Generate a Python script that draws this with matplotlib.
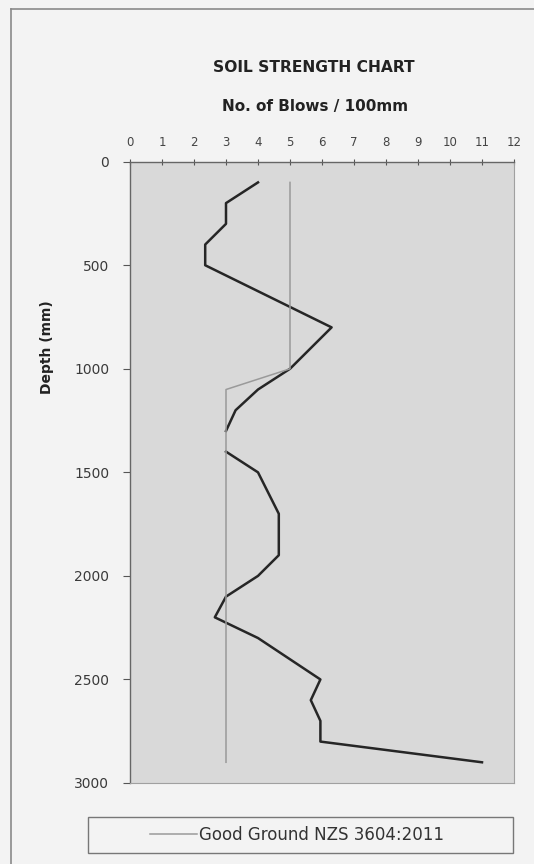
import matplotlib
matplotlib.use("Agg")
import matplotlib.pyplot as plt
import numpy as np
from matplotlib.patches import Rectangle
from matplotlib.lines import Line2D

# Data (NaN marks the break in the measured record between 1300 and 1400 mm)
blows = [4, 3, 3, 2.35, 2.35, 6.3, 5, 4, 3.3, 3, np.nan, 3, 4, 4.65, 4.65, 4, 3, 2.65, 4, 5.95, 5.65, 5.95, 5.95, 11]
depth = [100, 200, 300, 400, 500, 800, 1000, 1100, 1200, 1300, 1350, 1400, 1500, 1700, 1900, 2000, 2100, 2200, 2300, 2500, 2600, 2700, 2800, 2900]
good_blows = [5, 5, 3, 3]
good_depth = [100, 1000, 1100, 2900]
x_ticks = list(range(0, 13))
y_ticks = [0, 500, 1000, 1500, 2000, 2500, 3000]
title = "SOIL STRENGTH CHART"
subtitle = "No. of Blows / 100mm"
ylabel = "Depth (mm)"
legend_label = "Good Ground NZS 3604:2011"

W, H = 534, 864
fig = plt.figure(figsize=(W / 100, H / 100), dpi=100)
fig.patch.set_facecolor("#f3f3f3")

def fx(px):
    return px / W

def fy(py):
    return 1 - py / H

ax = fig.add_axes([fx(130), fy(783), fx(514) - fx(130), fy(161.7) - fy(783)])
ax.set_facecolor("#d9d9d9")

ax.plot(blows, depth, color="#262626", lw=1.8, zorder=2)
ax.plot(good_blows, good_depth, color="#9a9a9a", lw=1.1, label=legend_label, zorder=3)

ax.set_xlim(0, 12)
ax.set_ylim(3000, 0)
ax.set_xticks(x_ticks)
ax.set_yticks(y_ticks)
ax.xaxis.tick_top()
ax.tick_params(axis="x", direction="inout", length=4, width=0.8, colors="#555555",
               labelsize=8.5, labelcolor="#444444", pad=7)
ax.tick_params(axis="y", direction="out", length=5, width=0.8, colors="#555555",
               labelsize=10, labelcolor="#3a3a3a", pad=10)
for side in ["top", "left"]:
    ax.spines[side].set_color("#666666")
    ax.spines[side].set_linewidth(1.0)
for side in ["right", "bottom"]:
    ax.spines[side].set_color("#a0a0a0")
    ax.spines[side].set_linewidth(0.8)

fig.text(fx(314), fy(68), title, ha="center", va="center", fontsize=11.2,
         fontweight="bold", color="#222222")
fig.text(fx(315), fy(106), subtitle, ha="center", va="center", fontsize=11,
         fontweight="bold", color="#222222")
fig.text(fx(47), fy(347), ylabel, ha="center", va="center", rotation=90,
         fontsize=10, fontweight="bold", color="#222222")

# Page frame
fig.add_artist(Line2D([fx(11), fx(11)], [fy(9), 0], transform=fig.transFigure,
                      color="#8a8a8a", lw=1.2))
fig.add_artist(Line2D([fx(11), 1], [fy(9), fy(9)], transform=fig.transFigure,
                      color="#8a8a8a", lw=1.2))

# Legend box
fig.add_artist(Rectangle((fx(88), fy(853)), fx(513) - fx(88), fy(817) - fy(853),
                         transform=fig.transFigure, facecolor="none",
                         edgecolor="#777777", lw=1.0))
handles, labels = ax.get_legend_handles_labels()
fig.legend(handles, labels, loc="center", bbox_to_anchor=(fx(297), fy(835)),
           frameon=False, fontsize=12, handlelength=2.8, handletextpad=0.1,
           labelcolor="#333333")

fig.savefig("out.png", dpi=100, facecolor=fig.get_facecolor())
